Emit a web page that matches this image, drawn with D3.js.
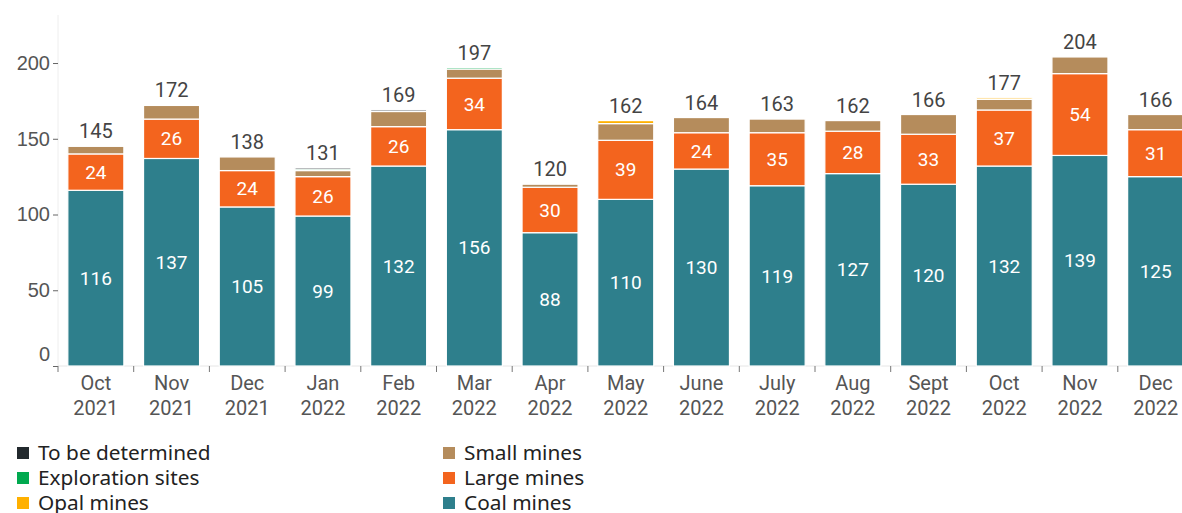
<!DOCTYPE html>
<html><head><meta charset="utf-8">
<script src="https://cdn.jsdelivr.net/npm/d3@7"></script>
<style>body{margin:0;background:#fff;}svg{display:block;font-family:Roboto,"Noto Sans",sans-serif;}</style>
</head><body><svg id="c" width="1182" height="513"></svg>
<script>
const months = ["Oct 2021","Nov 2021","Dec 2021","Jan 2022","Feb 2022","Mar 2022","Apr 2022","May 2022","June 2022","July 2022","Aug 2022","Sept 2022","Oct 2022","Nov 2022","Dec 2022"];
const coal =        [116,137,105, 99,132,156, 88,110,130,119,127,120,132,139,125];
const large =       [ 24, 26, 24, 26, 26, 34, 30, 39, 24, 35, 28, 33, 37, 54, 31];
const small =       [  5,  9,  9,  4, 10,  6,  2, 11, 10,  9,  7, 13,  7, 11, 10];
const opal =        [  0,  0,  0,  0,  0,  0,  0,  2,  0,  0,  0,  0,  1,  0,  0];
const exploration = [  0,  0,  0,  1,  0,  1,  0,  0,  0,  0,  0,  0,  0,  0,  0];
const tbd =         [  0,  0,  0,  1,  1,  0,  0,  0,  0,  0,  0,  0,  0,  0,  0];
const totals =      [145,172,138,131,169,197,120,162,164,163,162,166,177,204,166];
const yTicks = [0,50,100,150,200];

const seriesDefs = [
  {key:"coal", name:"Coal mines", values:coal, color:"#2e7f8c", label:true},
  {key:"large", name:"Large mines", values:large, color:"#f3641e", label:true},
  {key:"small", name:"Small mines", values:small, color:"#b58c5c", label:false},
  {key:"opal", name:"Opal mines", values:opal, color:"#ffb000", label:false},
  {key:"exploration", name:"Exploration sites", values:exploration, color:"#00a94f", label:false},
  {key:"tbd", name:"To be determined", values:tbd, color:"#22292d", label:false}
];

const svg = d3.select("#c");
const x0 = 58, xStep = 75.7;
const x = d3.scaleBand().domain(months).range([x0, x0 + xStep*months.length]).paddingInner(0.26).paddingOuter(0.13);
const y = d3.scaleLinear().domain([0, 231.7]).range([366, 15]);

const rows = months.map((m,i)=>{const r={month:m}; seriesDefs.forEach(s=>r[s.key]=s.values[i]); return r;});
const stack = d3.stack().keys(seriesDefs.map(s=>s.key))(rows);

svg.append("line").attr("x1",x0).attr("x2",x0).attr("y1",15).attr("y2",366).attr("stroke","#eeeeee").attr("stroke-width",1);

const yAxis = svg.append("g").attr("transform",`translate(${x0},0)`)
  .call(d3.axisLeft(y).tickValues(yTicks).tickSize(5).tickPadding(3));
yAxis.select(".domain").remove();
yAxis.selectAll(".tick line").attr("stroke","#666");
yAxis.selectAll(".tick text").attr("fill","#555").style("font-size","20px")
  .attr("dy", d=> d===0 ? "-0.3em" : "0.32em");

const xAxisG = svg.append("g").attr("transform","translate(0,366)");
xAxisG.append("line").attr("x1",x0).attr("x2",1182).attr("y1",0).attr("y2",0).attr("stroke","#e6e6e6");
const bounds = d3.range(months.length+1).map(i=> x0 + i*xStep);
xAxisG.selectAll("line.tk").data(bounds).join("line").attr("class","tk")
  .attr("x1",d=>d).attr("x2",d=>d).attr("y1",0).attr("y2",6).attr("stroke","#777");
const xl = xAxisG.selectAll("text").data(months).join("text")
  .attr("x", d=> x(d)+x.bandwidth()/2).attr("text-anchor","middle")
  .attr("fill","#555").style("font-size","20px");
xl.append("tspan").attr("x", d=> x(d)+x.bandwidth()/2).attr("y",24).text(d=>d.split(" ")[0]);
xl.append("tspan").attr("x", d=> x(d)+x.bandwidth()/2).attr("y",49).text(d=>d.split(" ")[1]);

const colorOf = Object.fromEntries(seriesDefs.map(s=>[s.key,s.color]));
const layers = svg.append("g").selectAll("g").data(stack).join("g").attr("fill", d=>colorOf[d.key]);
layers.selectAll("rect").data(d=>d.map(v=>Object.assign(v,{key:d.key}))).join("rect")
  .filter(d=> d[1]-d[0] > 0)
  .attr("x", d=> x(d.data.month)).attr("width", x.bandwidth())
  .attr("y", d=> y(d[1])).attr("height", d=> y(d[0]) - y(d[1]))
  .attr("stroke","#fff").attr("stroke-width",1.2);

seriesDefs.filter(s=>s.label).forEach(s=>{
  const layer = stack.find(l=>l.key===s.key);
  svg.append("g").selectAll("text").data(layer).join("text")
    .attr("x", d=> x(d.data.month)+x.bandwidth()/2)
    .attr("y", d=> (y(d[0])+y(d[1]))/2).attr("dy","0.35em")
    .attr("text-anchor","middle").attr("fill","#fff").style("font-size","19px")
    .text(d=> d[1]-d[0]);
});

svg.append("g").selectAll("text").data(months).join("text")
  .attr("x", d=> x(d)+x.bandwidth()/2).attr("y",(d,i)=> y(totals[i]) - 8)
  .attr("text-anchor","middle").attr("fill","#444").style("font-size","20px")
  .text((d,i)=> totals[i]);

const legendOrder = [
  ["tbd",17,453],["exploration",17,478],["opal",17,503],
  ["small",443,453],["large",443,478],["coal",443,503]
];
const lg = svg.append("g").selectAll("g").data(legendOrder).join("g")
  .attr("transform", d=>`translate(${d[1]},${d[2]})`);
lg.append("rect").attr("x",0).attr("y",-6).attr("width",12).attr("height",12)
  .attr("fill", d=> colorOf[d[0]]);
lg.append("text").attr("x",21).attr("y",0).attr("dy","0.35em").attr("fill","#222")
  .style("font-family","'Noto Sans',sans-serif")
  .style("font-size","20.8px").text(d=> seriesDefs.find(s=>s.key===d[0]).name);
</script></body></html>
